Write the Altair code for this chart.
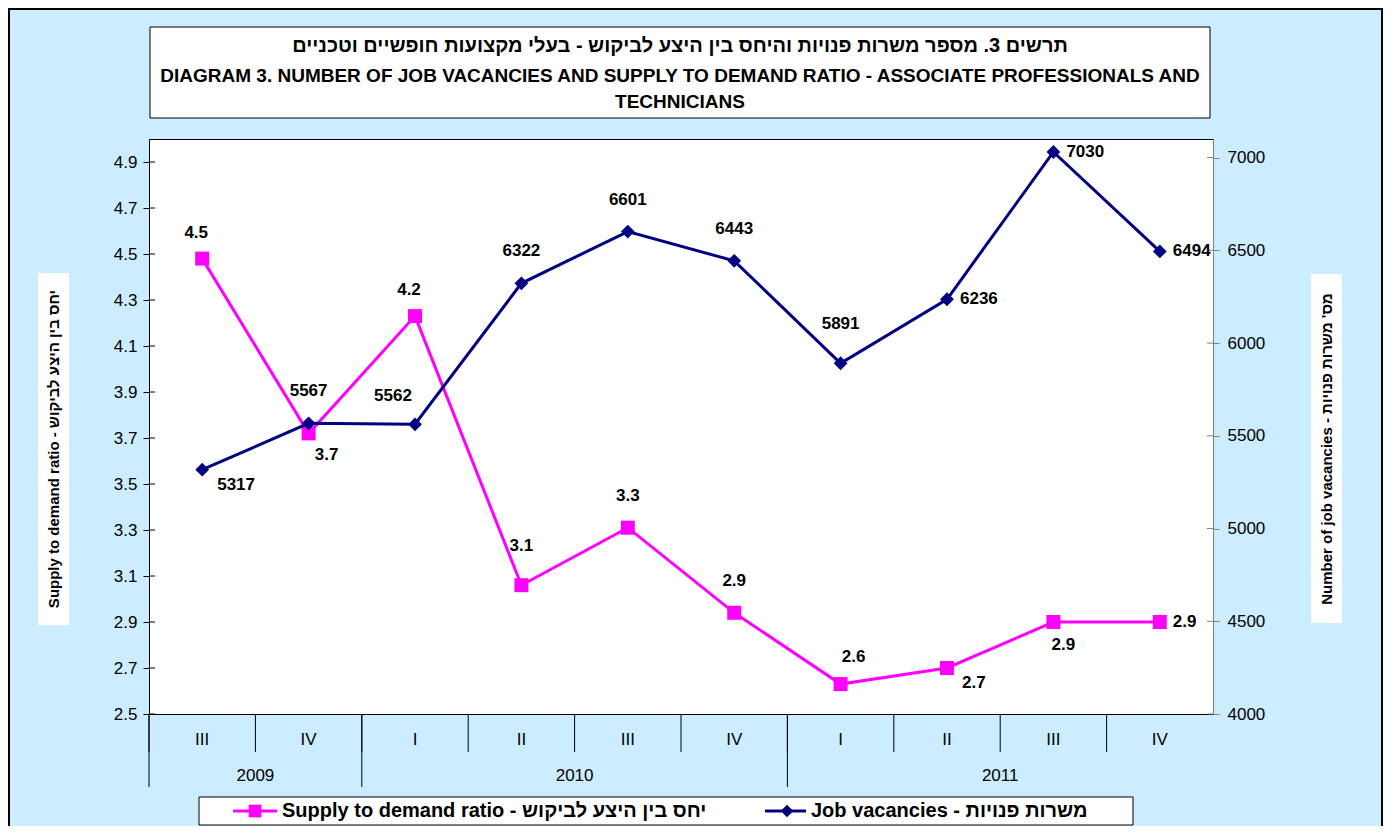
import altair as alt
import pandas as pd

FONT = "Liberation Sans, Arial, sans-serif"
PINK = "#FF00FF"
NAVY = "#000080"

# ---- data ----
quarters = ["III", "IV", "I", "II", "III", "IV", "I", "II", "III", "IV"]
years = ["2009", "2009", "2010", "2010", "2010", "2010", "2011", "2011", "2011", "2011"]
ratio = [4.48, 3.72, 4.23, 3.06, 3.31, 2.94, 2.63, 2.70, 2.90, 2.90]
vacancies = [5317, 5567, 5562, 6322, 6601, 6443, 5891, 6236, 7030, 6494]
ratio_label_pos = ["above-left", "below-right", "above-left", "above-high", "above", "above",
                   "above-right", "right-below", "below", "right"]
vac_label_pos = ["right-below", "above", "above-left2", "above", "above", "above",
                 "above-high", "right", "right", "right"]
ratio_ticks = [2.5, 2.7, 2.9, 3.1, 3.3, 3.5, 3.7, 3.9, 4.1, 4.3, 4.5, 4.7, 4.9]
vac_ticks = [4000, 4500, 5000, 5500, 6000, 6500, 7000]

title_he = "תרשים 3. מספר משרות פנויות והיחס בין היצע לביקוש - בעלי מקצועות חופשיים וטכניים"
title_en1 = "DIAGRAM 3. NUMBER OF JOB VACANCIES AND SUPPLY TO DEMAND RATIO - ASSOCIATE PROFESSIONALS AND"
title_en2 = "TECHNICIANS"
left_title = "Supply to demand ratio - יחס בין היצע לביקוש"
right_title = "Number of job vacancies - מס' משרות פנויות"
legend_ratio = "Supply to demand ratio - יחס בין היצע לביקוש"
legend_vac = "Job vacancies - משרות פנויות"

W, H = 1064, 575
N = len(quarters)

df = pd.DataFrame({
    "pos": [i + 0.5 for i in range(N)],
    "quarter": quarters,
    "year": years,
    "ratio": ratio,
    "vacancies": vacancies,
    "rpos": ratio_label_pos,
    "vpos": vac_label_pos,
})

# boundaries for the category axis
qb = pd.DataFrame({"b": list(range(N))})
year_starts = [i for i in range(N) if i == 0 or years[i] != years[i - 1]]
yb = pd.DataFrame({"b": year_starts})
year_groups = []
for k, s in enumerate(year_starts):
    e = year_starts[k + 1] if k + 1 < len(year_starts) else N
    year_groups.append({"year": years[s], "mid": (s + e) / 2})
yl = pd.DataFrame(year_groups)

xs = alt.Scale(domain=[0, N], nice=False, zero=False)
X = alt.X("pos:Q", scale=xs, axis=None)

left_y = alt.Y("ratio:Q",
               scale=alt.Scale(domain=[2.5, 5.0], nice=False, zero=False),
               axis=alt.Axis(orient="left", values=ratio_ticks, format=".1f", title=None,
                             grid=False, labelFontSize=17, labelFont=FONT, labelColor="black",
                             tickColor="black", tickSize=6, domainColor="black",
                             labelPadding=6))
right_y = alt.Y("vacancies:Q",
                scale=alt.Scale(domain=[4000, 7100], nice=False, zero=False),
                axis=alt.Axis(orient="right", values=vac_ticks, format="d", title=None,
                              grid=False, labelFontSize=17, labelFont=FONT, labelColor="black",
                              tickColor="#808080", tickSize=6, domainColor="#808080",
                              labelPadding=8))

offsets = {
    "above": (0, -32, "center"),
    "above-high": (0, -39, "center"),
    "above-left": (-6, -26, "center"),
    "above-left2": (-22, -28, "center"),
    "above-right": (13, -27, "center"),
    "below": (10, 23, "center"),
    "below-right": (18, 22, "center"),
    "right-below": (15, 15, "left"),
    "right": (13, 0, "left"),
}

base = alt.Chart(df)

# ---- left (ratio) group ----
left_layers = [
    alt.Chart(pd.DataFrame({"ratio": ratio_ticks})).mark_rule(color="black", strokeWidth=1).encode(
        y=left_y, x=alt.value(0), x2=alt.value(6)),
    base.mark_line(color=PINK, strokeWidth=3).encode(x=X, y=left_y),
    base.mark_point(shape="square", filled=True, size=196, color=PINK, opacity=1).encode(x=X, y=left_y),
]
for name, (dx, dy, al) in offsets.items():
    if name in ratio_label_pos:
        left_layers.append(
            base.transform_filter(alt.datum.rpos == name).mark_text(
                dx=dx, dy=dy, align=al, baseline="middle", font=FONT, fontSize=17,
                fontWeight="bold", color="black").encode(
                x=X, y=left_y, text=alt.Text("ratio:Q", format=".1f")))
left_group = alt.layer(*left_layers)

# ---- right (vacancies) group ----
right_layers = [
    alt.Chart(pd.DataFrame({"vacancies": vac_ticks})).mark_rule(color="#808080", strokeWidth=1).encode(
        y=right_y, x=alt.value(W - 6), x2=alt.value(W)),
    base.mark_line(color=NAVY, strokeWidth=3).encode(x=X, y=right_y),
    base.mark_point(shape="diamond", filled=True, size=190, color=NAVY, opacity=1).encode(x=X, y=right_y),
]
for name, (dx, dy, al) in offsets.items():
    if name in vac_label_pos:
        right_layers.append(
            base.transform_filter(alt.datum.vpos == name).mark_text(
                dx=dx, dy=dy, align=al, baseline="middle", font=FONT, fontSize=17,
                fontWeight="bold", color="black").encode(
                x=X, y=right_y, text=alt.Text("vacancies:Q", format="d")))
right_group = alt.layer(*right_layers)

one = pd.DataFrame({"k": [0]})

def box(x1, x2, y1, y2, stroke="black", sw=1, fill="white"):
    return alt.Chart(one).mark_rect(fill=fill, stroke=stroke, strokeWidth=sw).encode(
        x=alt.value(x1), x2=alt.value(x2), y=alt.value(y1), y2=alt.value(y2))

def label(txt, x, y, size, weight="normal", align="center", angle=0):
    return alt.Chart(one).mark_text(text=txt, align=align, baseline="middle", font=FONT,
                                    fontSize=size, fontWeight=weight, color="black",
                                    angle=angle).encode(x=alt.value(x), y=alt.value(y))

outer = alt.Chart(one).mark_rect(fill="transparent", stroke="black", strokeWidth=2).encode(
    x=alt.value(-140), x2=alt.value(1233), y=alt.value(-130), y2=alt.value(720))

title_layers = [
    box(1, 1061, -112, -21),
    label(title_he, 531, -93, 20, "bold"),
    label(title_en1, 531, -63, 19, "bold"),
    label(title_en2, 531, -37, 19, "bold"),
]

axis_title_layers = [
    box(-111, -80, 134, 486, stroke=None, sw=0),
    label(left_title, -95.5, 310, 15, "bold", angle=270),
    box(1162, 1193, 135, 484, stroke=None, sw=0),
    label(right_title, 1177.5, 310, 15, "bold", angle=270),
]

xaxis_layers = [
    alt.Chart(qb).mark_rule(color="black", strokeWidth=1).encode(
        x=alt.X("b:Q", scale=xs, axis=None), y=alt.value(H), y2=alt.value(H + 38)),
    alt.Chart(yb).mark_rule(color="black", strokeWidth=1).encode(
        x=alt.X("b:Q", scale=xs, axis=None), y=alt.value(H), y2=alt.value(H + 73)),
    base.mark_text(font=FONT, fontSize=17, color="black", baseline="middle").encode(
        x=X, y=alt.value(H + 26), text="quarter:N"),
    alt.Chart(yl).mark_text(font=FONT, fontSize=17, color="black", baseline="middle").encode(
        x=alt.X("mid:Q", scale=xs, axis=None), y=alt.value(H + 62), text="year:N"),
]

LY = 672
legend_layers = [
    box(50, 984, 658, 686),
    alt.Chart(one).mark_rule(color=PINK, strokeWidth=3).encode(
        x=alt.value(84), x2=alt.value(128), y=alt.value(LY)),
    alt.Chart(one).mark_point(shape="square", filled=True, size=160, color=PINK, opacity=1).encode(
        x=alt.value(106), y=alt.value(LY)),
    label(legend_ratio, 133, LY, 20, "bold", align="left"),
    alt.Chart(one).mark_rule(color=NAVY, strokeWidth=3).encode(
        x=alt.value(616), x2=alt.value(657), y=alt.value(LY)),
    alt.Chart(one).mark_point(shape="diamond", filled=True, size=160, color=NAVY, opacity=1).encode(
        x=alt.value(638), y=alt.value(LY)),
    label(legend_vac, 662, LY, 20, "bold", align="left"),
]

chart = alt.layer(
    outer, *title_layers, *axis_title_layers, *xaxis_layers, *legend_layers,
    left_group, right_group
).resolve_scale(y="independent").properties(
    width=W, height=H,
    autosize=alt.AutoSizeParams(type="none"),
    padding={"left": 141, "top": 131, "right": 170, "bottom": 112},
).configure(background="#CCECFF").configure_view(fill="white", stroke="black", strokeWidth=1)

chart.save("out.html", embed_options={"renderer": "svg", "actions": False})
